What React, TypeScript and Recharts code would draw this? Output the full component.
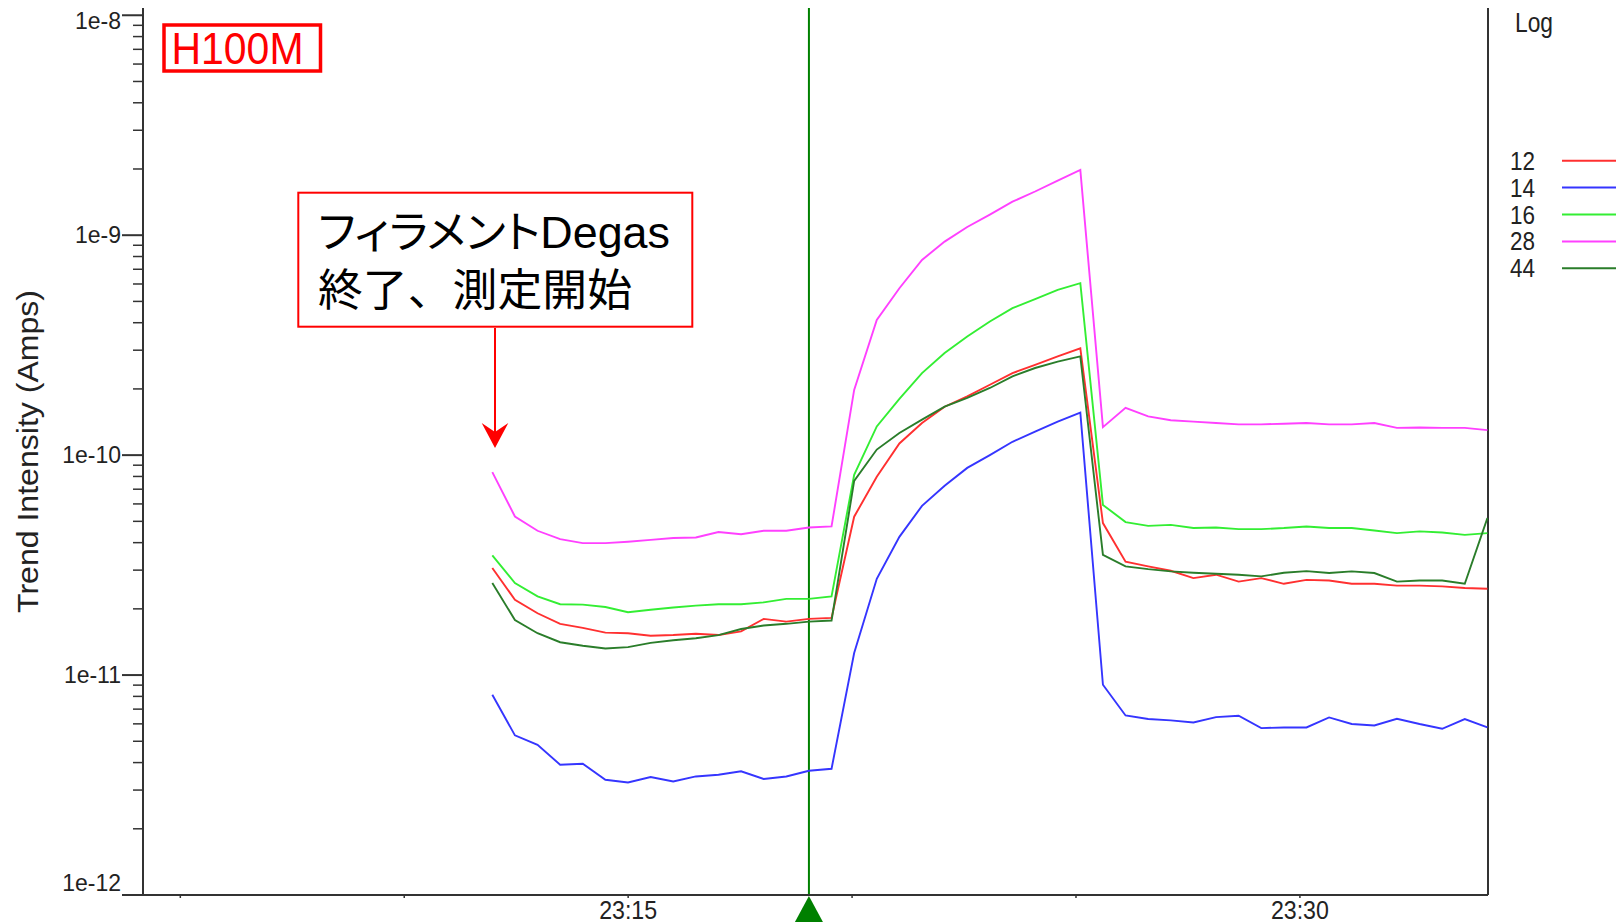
import React from "react";
import {
  LineChart,
  Line,
  XAxis,
  YAxis,
  ReferenceLine,
  ReferenceDot,
  Legend,
} from "recharts";

// scan clock, seconds after 23:00:00
const firstScanSec = 718;
const scanPeriodSec = 30.3;
const scanCount = 45;
const cursorScan = 14;

// ion currents (A) per scan, by m/z
const mass12 = [
  3.07e-11, 2.2e-11, 1.91e-11, 1.71e-11, 1.64e-11, 1.56e-11, 1.55e-11, 1.51e-11, 1.52e-11, 1.54e-11,
  1.52e-11, 1.58e-11, 1.8e-11, 1.75e-11, 1.8e-11, 1.82e-11,
  5.25e-11, 7.97e-11, 1.13e-10, 1.4e-10, 1.66e-10, 1.85e-10, 2.09e-10, 2.36e-10, 2.57e-10, 2.81e-10, 3.06e-10,
  4.91e-11, 3.28e-11, 3.12e-11, 2.98e-11, 2.76e-11, 2.86e-11, 2.66e-11, 2.76e-11, 2.6e-11, 2.71e-11,
  2.69e-11, 2.6e-11, 2.6e-11, 2.55e-11, 2.55e-11, 2.53e-11, 2.49e-11, 2.47e-11,
];
const mass14 = [
  8.14e-12, 5.32e-12, 4.82e-12, 3.91e-12, 3.95e-12, 3.34e-12, 3.25e-12, 3.44e-12, 3.28e-12, 3.46e-12,
  3.52e-12, 3.65e-12, 3.37e-12, 3.46e-12, 3.67e-12, 3.75e-12,
  1.26e-11, 2.74e-11, 4.25e-11, 5.88e-11, 7.25e-11, 8.75e-11, 1.0e-10, 1.15e-10, 1.28e-10, 1.42e-10, 1.56e-10,
  9.04e-12, 6.55e-12, 6.31e-12, 6.22e-12, 6.09e-12, 6.44e-12, 6.53e-12, 5.74e-12, 5.78e-12, 5.78e-12,
  6.42e-12, 5.99e-12, 5.9e-12, 6.33e-12, 5.99e-12, 5.7e-12, 6.31e-12, 5.78e-12,
];
const mass16 = [
  3.5e-11, 2.62e-11, 2.28e-11, 2.1e-11, 2.09e-11, 2.04e-11, 1.93e-11, 1.98e-11, 2.03e-11, 2.07e-11,
  2.1e-11, 2.1e-11, 2.14e-11, 2.22e-11, 2.22e-11, 2.28e-11,
  8.14e-11, 1.35e-10, 1.8e-10, 2.36e-10, 2.91e-10, 3.46e-10, 4.05e-10, 4.66e-10, 5.12e-10, 5.64e-10, 6.05e-10,
  5.94e-11, 4.96e-11, 4.77e-11, 4.82e-11, 4.66e-11, 4.69e-11, 4.61e-11, 4.61e-11, 4.66e-11, 4.74e-11,
  4.66e-11, 4.66e-11, 4.54e-11, 4.42e-11, 4.5e-11, 4.45e-11, 4.34e-11, 4.42e-11,
];
const mass28 = [
  8.37e-11, 5.26e-11, 4.53e-11, 4.15e-11, 3.98e-11, 3.98e-11, 4.04e-11, 4.12e-11, 4.2e-11, 4.22e-11,
  4.47e-11, 4.37e-11, 4.53e-11, 4.53e-11, 4.69e-11, 4.74e-11,
  1.98e-10, 4.12e-10, 5.74e-10, 7.72e-10, 9.35e-10, 1.09e-9, 1.24e-9, 1.42e-9, 1.58e-9, 1.77e-9, 1.98e-9,
  1.34e-10, 1.64e-10, 1.5e-10, 1.44e-10, 1.42e-10, 1.4e-10, 1.38e-10, 1.38e-10, 1.39e-10, 1.4e-10,
  1.38e-10, 1.38e-10, 1.4e-10, 1.33e-10, 1.335e-10, 1.33e-10, 1.33e-10, 1.3e-10,
];
const mass44 = [
  2.62e-11, 1.78e-11, 1.55e-11, 1.41e-11, 1.36e-11, 1.32e-11, 1.34e-11, 1.4e-11, 1.44e-11, 1.47e-11,
  1.52e-11, 1.62e-11, 1.68e-11, 1.71e-11, 1.75e-11, 1.77e-11,
  7.64e-11, 1.06e-10, 1.26e-10, 1.45e-10, 1.66e-10, 1.82e-10, 2.02e-10, 2.28e-10, 2.49e-10, 2.66e-10, 2.81e-10,
  3.52e-11, 3.12e-11, 3.03e-11, 2.96e-11, 2.92e-11, 2.89e-11, 2.86e-11, 2.81e-11, 2.92e-11, 2.97e-11,
  2.91e-11, 2.96e-11, 2.91e-11, 2.66e-11, 2.69e-11, 2.69e-11, 2.6e-11, 5.17e-11,
];

const timeDomain: [number, number] = [250, 2052];
const timeTicks = [300, 600, 900, 1200, 1500, 1800];
// the plot runs a little above the 1e-8 tick
const yDomain: [number, number] = [1e-12, 1.079e-8];
const decades = [-12, -11, -10, -9];

const seriesList = [
  { key: "m12", name: "12", color: "#ff3030", values: mass12 },
  { key: "m14", name: "14", color: "#3535ff", values: mass14 },
  { key: "m16", name: "16", color: "#33ee33", values: mass16 },
  { key: "m28", name: "28", color: "#ff40ff", values: mass28 },
  { key: "m44", name: "44", color: "#2a7d2a", values: mass44 },
];

const scanTimes = Array.from({ length: scanCount }, (_, i) => firstScanSec + i * scanPeriodSec);

const rows = scanTimes.map((t, i) => {
  const row: Record<string, number> = { t };
  seriesList.forEach((s) => {
    row[s.key] = s.values[i];
  });
  return row;
});

// 1,2..9 x 10^e for every decade, plus the top bound
const yTicks = [
  ...decades.flatMap((e) => [1, 2, 3, 4, 5, 6, 7, 8, 9].map((m) => m * Math.pow(10, e))),
  1e-8,
];

const FONT = "'Liberation Sans', Arial, sans-serif";
const INK = "#222";
const AXIS = "#333";

function LogTick(props: any) {
  const { x, y, payload } = props;
  const v = payload.value as number;
  const exp = Math.round(Math.log10(v));
  const isMajor = Math.abs(v / Math.pow(10, exp) - 1) < 1e-6;
  if (!isMajor) {
    return <line x1={x - 10} x2={x} y1={y} y2={y} stroke={AXIS} strokeWidth={1.5} />;
  }
  let baseline = y + 8;
  if (exp === -8) baseline = y + 14;
  if (exp === -12) baseline = y - 4;
  return (
    <g>
      <line x1={x - 21} x2={x} y1={y} y2={y} stroke={AXIS} strokeWidth={2} />
      <text x={x - 22} y={baseline} textAnchor="end" fontFamily={FONT} fontSize={23} fill={INK}>
        {`1e${exp}`}
      </text>
    </g>
  );
}

function TimeTick(props: any) {
  const { x, y, payload } = props;
  const minute = Math.round((payload.value as number) / 60);
  return (
    <g>
      <line x1={x} x2={x} y1={y} y2={y + 3} stroke={AXIS} strokeWidth={1.5} />
      {minute % 15 === 0 && (
        <text
          x={x}
          y={y + 24}
          textAnchor="middle"
          fontFamily={FONT}
          fontSize={26}
          textLength={58}
          lengthAdjust="spacingAndGlyphs"
          fill={INK}
        >
          {`23:${String(minute).padStart(2, "0")}`}
        </text>
      )}
    </g>
  );
}

function AxisTitle(props: any) {
  const vb = props.viewBox || { x: 0, y: 8, width: 143, height: 887 };
  const cx = vb.x + 38;
  const cy = vb.y + vb.height / 2;
  return (
    <text
      x={cx}
      y={cy}
      transform={`rotate(-90 ${cx} ${cy})`}
      textAnchor="middle"
      fontFamily={FONT}
      fontSize={29}
      textLength={323}
      lengthAdjust="spacingAndGlyphs"
      fill={INK}
    >
      Trend Intensity  (Amps)
    </text>
  );
}

function CursorMarker(props: any) {
  const { cx, cy } = props;
  if (cx == null || cy == null) return <g />;
  return (
    <polygon
      points={`${cx},${cy + 1} ${cx - 14},${cy + 27} ${cx + 14},${cy + 27}`}
      fill="#008000"
    />
  );
}

function LogLegend() {
  return (
    <svg width={141} height={300} style={{ display: "block" }}>
      <text x={35} y={32} fontFamily={FONT} fontSize={27} textLength={38} lengthAdjust="spacingAndGlyphs" fill={INK}>
        Log
      </text>
      {seriesList.map((s, i) => {
        const cy = 160.7 + i * 26.9;
        return (
          <g key={s.key}>
            <text
              x={55}
              y={cy + 9}
              textAnchor="end"
              fontFamily={FONT}
              fontSize={25}
              textLength={25}
              lengthAdjust="spacingAndGlyphs"
              fill={INK}
            >
              {s.name}
            </text>
            <line x1={82} x2={136} y1={cy} y2={cy} stroke={s.color} strokeWidth={2} />
          </g>
        );
      })}
    </svg>
  );
}

function Annotations() {
  return (
    <svg
      width={1621}
      height={924}
      style={{ position: "absolute", left: 0, top: 0, pointerEvents: "none" }}
    >
      <rect x={164} y={25} width={156.5} height={46} fill="none" stroke="#ff0000" strokeWidth={3.5} />
      <text
        x={171.5}
        y={64}
        fontFamily={FONT}
        fontSize={44}
        textLength={132}
        lengthAdjust="spacingAndGlyphs"
        fill="#ff0000"
      >
        H100M
      </text>

      <rect x={298.3} y={192.7} width={394} height={134} fill="#fff" stroke="#ff0000" strokeWidth={2} />
      <text
        x={318}
        y={248}
        fontFamily={`${FONT}, 'Noto Sans CJK JP'`}
        fontSize={44}
        textLength={352}
        lengthAdjust="spacingAndGlyphs"
        style={{ fontFeatureSettings: '"palt"' }}
        fill="#000"
      >
        フィラメントDegas
      </text>
      <text
        x={318}
        y={306}
        fontFamily="'Noto Sans CJK JP', sans-serif"
        fontSize={44}
        textLength={314}
        lengthAdjust="spacingAndGlyphs"
        fill="#000"
      >
        終了、測定開始
      </text>
      <line x1={495} x2={495} y1={328} y2={436} stroke="#ff0000" strokeWidth={2} />
      <polygon points="495,448 481.7,423 495,432 508.3,423" fill="#ff0000" />
    </svg>
  );
}

export default function App() {
  return (
    <div
      style={{
        position: "absolute",
        left: 0,
        top: 0,
        width: 1621,
        height: 924,
        background: "#fff",
        overflow: "hidden",
      }}
    >
      <LineChart
        width={1621}
        height={924}
        data={rows}
        margin={{ top: 8, right: 133, bottom: 0, left: 0 }}
      >
        <XAxis
          dataKey="t"
          type="number"
          domain={timeDomain}
          ticks={timeTicks}
          interval={0}
          allowDataOverflow
          height={29}
          tickSize={0}
          tickMargin={0}
          tickLine={false}
          axisLine={{ stroke: AXIS, strokeWidth: 2 }}
          tick={<TimeTick />}
        />
        <YAxis
          type="number"
          scale="log"
          domain={yDomain}
          ticks={yTicks}
          interval={0}
          allowDataOverflow
          width={143}
          tickSize={0}
          tickMargin={0}
          tickLine={false}
          axisLine={{ stroke: AXIS, strokeWidth: 2 }}
          tick={<LogTick />}
          label={{ content: <AxisTitle /> }}
        />
        <ReferenceLine x={timeDomain[1]} stroke={AXIS} strokeWidth={2} />
        <ReferenceLine x={scanTimes[cursorScan]} stroke="#008000" strokeWidth={2} />
        {seriesList.map((s) => (
          <Line
            key={s.key}
            dataKey={s.key}
            name={s.name}
            type="linear"
            stroke={s.color}
            strokeWidth={1.9}
            dot={false}
            isAnimationActive={false}
          />
        ))}
        <ReferenceDot
          x={scanTimes[cursorScan]}
          y={yDomain[0]}
          r={0}
          shape={<CursorMarker />}
        />
        <Legend
          layout="vertical"
          align="center"
          verticalAlign="middle"
          content={<LogLegend />}
          wrapperStyle={{ left: 1480, top: 0, width: 141, height: 300 }}
        />
      </LineChart>
      <Annotations />
    </div>
  );
}
